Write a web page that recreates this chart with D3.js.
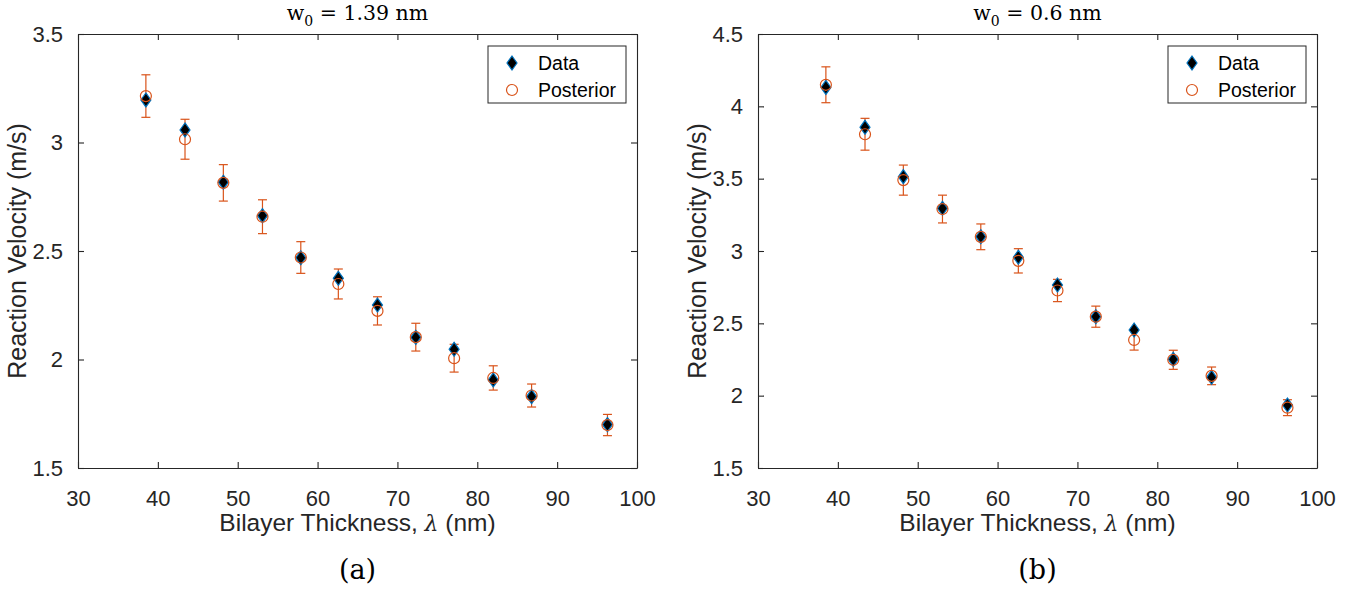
<!DOCTYPE html>
<html>
<head>
<meta charset="utf-8">
<script src="https://cdn.jsdelivr.net/npm/d3@7"></script>
<style>
  body { margin: 0; background: #fff; }
  svg { display: block; }
  .tick text { font-family: "Liberation Sans", Arial, sans-serif; font-size: 22px; fill: #262626; }
</style>
</head>
<body>
<svg id="chart"></svg>
<script>
// bilayer thickness (nm), same for both panels
let lambdaVals = [38.5, 43.4, 48.2, 53.1, 57.9, 62.6, 67.5, 72.3, 77.1, 82.0, 86.8, 96.3];

// panel (a), w0 = 1.39 nm
let dataA = [3.196, 3.058, 2.817, 2.663, 2.469, 2.374, 2.251, 2.102, 2.047, 1.906, 1.829, 1.700];
let postA = [3.214, 3.015, 2.814, 2.658, 2.470, 2.348, 2.224, 2.103, 2.006, 1.915, 1.834, 1.698];
let errA  = [0.098, 0.092, 0.084, 0.078, 0.073, 0.069, 0.065, 0.064, 0.064, 0.056, 0.053, 0.049];

// panel (b), w0 = 0.6 nm
let dataB = [4.131, 3.855, 3.514, 3.295, 3.099, 2.957, 2.765, 2.546, 2.454, 2.251, 2.127, 1.935];
let postB = [4.149, 3.807, 3.490, 3.290, 3.098, 2.932, 2.727, 2.546, 2.385, 2.248, 2.137, 1.917];
let errB  = [0.124, 0.110, 0.104, 0.096, 0.089, 0.084, 0.077, 0.073, 0.070, 0.066, 0.061, 0.055];

let xTicks = [30, 40, 50, 60, 70, 80, 90, 100];
let yTicksA = [1.5, 2, 2.5, 3, 3.5];
let yTicksB = [1.5, 2, 2.5, 3, 3.5, 4, 4.5];

let titles = ["1.39 nm", "0.6 nm"];
let captions = ["(a)", "(b)"];

let W = 1359, H = 590;
let axisColor = "#262626", orange = "#D95319", blue = "#0072BD";
let sans = '"Liberation Sans", Arial, sans-serif';
let serif = '"DejaVu Serif", "Liberation Serif", serif';

let svg = d3.select('#chart').attr('width', W).attr('height', H);

function diamondPath(cx, cy) {
  return `M${cx},${cy - 7}L${cx + 5},${cy}L${cx},${cy + 7}L${cx - 5},${cy}Z`;
}

function drawPanel(left, data, post, err, yTicks, title, caption) {
  let top = 34, bottom = 468, right = left + 559;
  let scX = d3.scaleLinear().domain([30, 100]).range([left, right]);
  let scY = d3.scaleLinear().domain([yTicks[0], yTicks[yTicks.length - 1]]).range([bottom, top]);
  let fmt = d => String(d);
  let g = svg.append('g');

  // axes: bottom/left with labels, top/right mirrored ticks
  g.append('g').attr('transform', `translate(0,${bottom})`)
    .call(d3.axisBottom(scX).tickValues(xTicks).tickFormat(fmt).tickSizeInner(-6).tickSizeOuter(0).tickPadding(22));
  g.append('g').attr('transform', `translate(0,${top})`)
    .call(d3.axisTop(scX).tickValues(xTicks).tickFormat('').tickSizeInner(-6).tickSizeOuter(0));
  g.append('g').attr('transform', `translate(${left},0)`)
    .call(d3.axisLeft(scY).tickValues(yTicks).tickFormat(fmt).tickSizeInner(-6).tickSizeOuter(0).tickPadding(15));
  g.append('g').attr('transform', `translate(${right},0)`)
    .call(d3.axisRight(scY).tickValues(yTicks).tickFormat('').tickSizeInner(-6).tickSizeOuter(0));
  g.selectAll('.domain').attr('stroke', axisColor).attr('stroke-width', 1.1);
  g.selectAll('.tick line').attr('stroke', axisColor).attr('stroke-width', 1.1);

  let pts = data.map((d, i) => ({x: lambdaVals[i], d: d, p: post[i], e: err[i]}));

  // error bars
  let eb = g.append('g').attr('stroke', orange).attr('stroke-width', 1.2).attr('fill', 'none');
  eb.selectAll('line.v').data(pts).enter().append('line').attr('class', 'v')
    .attr('x1', d => scX(d.x)).attr('x2', d => scX(d.x))
    .attr('y1', d => scY(d.p + d.e)).attr('y2', d => scY(d.p - d.e));
  eb.selectAll('line.t').data(pts).enter().append('line').attr('class', 't')
    .attr('x1', d => scX(d.x) - 4.5).attr('x2', d => scX(d.x) + 4.5)
    .attr('y1', d => scY(d.p + d.e)).attr('y2', d => scY(d.p + d.e));
  eb.selectAll('line.b').data(pts).enter().append('line').attr('class', 'b')
    .attr('x1', d => scX(d.x) - 4.5).attr('x2', d => scX(d.x) + 4.5)
    .attr('y1', d => scY(d.p - d.e)).attr('y2', d => scY(d.p - d.e));

  // data diamonds
  g.selectAll('path.dm').data(pts).enter().append('path').attr('class', 'dm')
    .attr('d', d => diamondPath(scX(d.x), scY(d.d)))
    .attr('fill', '#000').attr('stroke', blue).attr('stroke-width', 1.2);

  // posterior circles
  g.selectAll('circle.pc').data(pts).enter().append('circle').attr('class', 'pc')
    .attr('cx', d => scX(d.x)).attr('cy', d => scY(d.p)).attr('r', 5.5)
    .attr('fill', 'none').attr('stroke', orange).attr('stroke-width', 1.2);

  // legend
  let lg = g.append('g');
  lg.append('rect').attr('x', right - 149).attr('y', 46).attr('width', 138).attr('height', 57)
    .attr('fill', '#fff').attr('stroke', axisColor).attr('stroke-width', 1);
  lg.append('path').attr('d', diamondPath(right - 125, 63))
    .attr('fill', '#000').attr('stroke', blue).attr('stroke-width', 1.2);
  lg.append('circle').attr('cx', right - 125).attr('cy', 90).attr('r', 5.5)
    .attr('fill', 'none').attr('stroke', orange).attr('stroke-width', 1.2);
  lg.append('text').attr('x', right - 99).attr('y', 70).text('Data')
    .attr('font-family', sans).attr('font-size', 19.5).attr('fill', '#000');
  lg.append('text').attr('x', right - 99).attr('y', 97).text('Posterior')
    .attr('font-family', sans).attr('font-size', 19.5).attr('fill', '#000');

  let cx = (left + right) / 2;

  // title
  let t = g.append('text').attr('x', cx).attr('y', 20).attr('text-anchor', 'middle')
    .attr('font-family', serif).attr('font-size', 20.5).attr('fill', '#000');
  t.append('tspan').text('w');
  t.append('tspan').attr('dy', 6).attr('font-size', 14).text('0');
  t.append('tspan').attr('dy', -6).text(' = ' + title);

  // axis labels
  let xl = g.append('text').attr('x', cx).attr('y', 531).attr('text-anchor', 'middle')
    .attr('font-family', sans).attr('font-size', 24.5).attr('fill', axisColor);
  xl.append('tspan').text('Bilayer Thickness, ');
  xl.append('tspan').attr('font-family', serif).attr('font-style', 'italic').attr('font-size', 22).text('λ');
  xl.append('tspan').text(' (nm)');

  g.append('text').attr('transform', `translate(${left - 52},${(top + bottom) / 2}) rotate(-90)`)
    .attr('text-anchor', 'middle').attr('font-family', sans).attr('font-size', 25)
    .attr('fill', axisColor).text('Reaction Velocity (m/s)');

  // caption
  g.append('text').attr('x', cx).attr('y', 579).attr('text-anchor', 'middle')
    .attr('font-family', serif).attr('font-size', 27).attr('fill', '#000').text(caption);
}

drawPanel(78, dataA, postA, errA, yTicksA, titles[0], captions[0]);
drawPanel(758, dataB, postB, errB, yTicksB, titles[1], captions[1]);
</script>
</body>
</html>
